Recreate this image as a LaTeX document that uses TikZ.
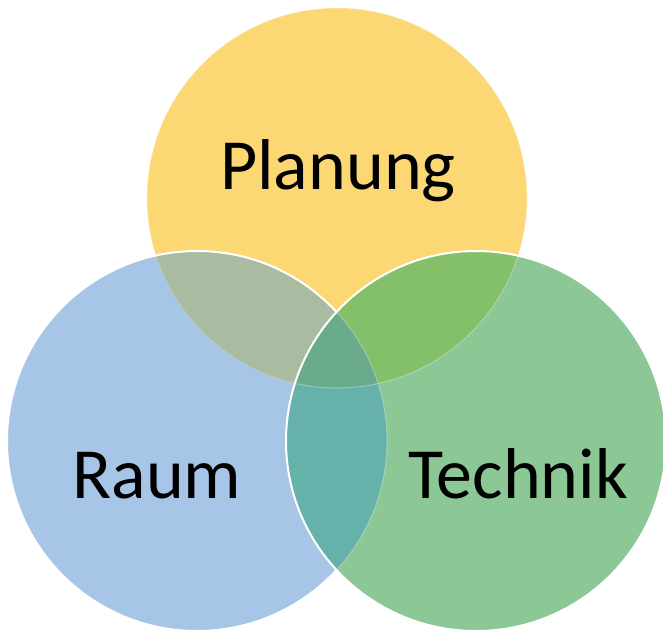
\documentclass[tikz,border=0pt]{standalone}
\usepackage{fontspec}
\setmainfont{Carlito}
\usetikzlibrary{positioning}
\definecolor{planungfill}{HTML}{FCD874}
\definecolor{raumfill}{HTML}{A7C5E6}
\definecolor{technikfill}{HTML}{8CC796}
\definecolor{planraum}{HTML}{A9BBA0}
\definecolor{plantechnik}{HTML}{84C06A}
\definecolor{raumtechnik}{HTML}{66B2AA}
\definecolor{allthree}{HTML}{6AAB8E}
\tikzset{x=1pt, y=-1pt, % one unit per pixel, y runs downwards
rim/.style={draw=white, line width=2pt}, % white outline of a circle
faint/.style={draw=white, opacity=.3, line width=1pt}, % hidden outline
word/.style={font=\fontsize{72}{80}\selectfont, anchor=base, inner sep=0pt},
}
\def\planungpath{(337,198) circle (190pt)}
\def\raumpath{(197,441) circle (190pt)}
\def\technikpath{(476,441) circle (190pt)}
\begin{document}
\begin{tikzpicture}
\useasboundingbox (0,0) rectangle (663,629);
% Planung
\fill[planungfill] \planungpath;
% Raum, over Planung
\fill[raumfill] \raumpath;
\begin{scope}
\clip \planungpath;
\fill[planraum] \raumpath;
\draw[faint] \planungpath;
\end{scope}
\draw[rim] \raumpath;
% Technik, over both
\fill[technikfill] \technikpath;
\begin{scope}
\clip \planungpath;
\fill[plantechnik] \technikpath;
\end{scope}
\begin{scope}
\clip \raumpath;
\fill[raumtechnik] \technikpath;
\clip \planungpath;
\fill[allthree] \technikpath;
\end{scope}
\begin{scope}
\clip \technikpath;
\draw[faint] \planungpath;
\draw[faint] \raumpath;
\end{scope}
\draw[rim] \technikpath;
% labels
\node[word] (planung) at (338,189) {Planung};
\node[word] (raum) at (157,498) {Raum};
\node[word] (technik) at (518,498) {Technik};
\end{tikzpicture}
\end{document}
